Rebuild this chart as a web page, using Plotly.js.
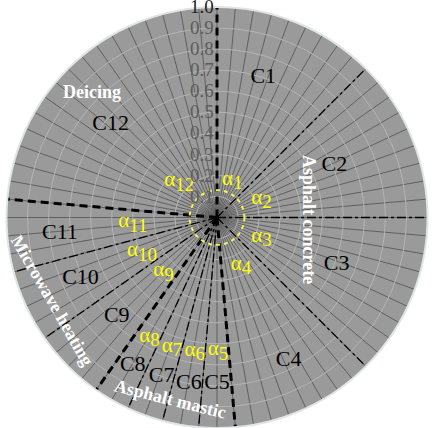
<!DOCTYPE html>
<html>
<head>
<meta charset="utf-8">
<script src="https://cdn.plot.ly/plotly-3.0.1.min.js"></script>
<style>
  html, body { margin: 0; padding: 0; background: #fff; }
  #chart { width: 436px; height: 428px; }
</style>
</head>
<body>
<div id="chart"></div>
<script>
// --- Data ---
const sectorLabels = ['C1', 'C2', 'C3', 'C4', 'C5', 'C6', 'C7', 'C8', 'C9', 'C10', 'C11', 'C12'];
const alphaIndex = ['1', '2', '3', '4', '5', '6', '7', '8', '9', '10', '11', '12'];
const groupBoundaries = [90, 275, 235, 175];               // thick dashed lines (deg)
const innerBoundaries = [45, 0, 315, 265, 255, 245, 215, 195]; // dash-dot lines (deg)
const groupNames = ['Asphalt concrete', 'Asphalt mastic', 'Microwave heating', 'Deicing'];
const radialTicks = [0.1, 0.2, 0.3, 0.4, 0.5, 0.6, 0.7, 0.8, 0.9, 1.0];
const radialTickText = ['0.1', '0.2', '0.3', '0.4', '0.5', '0.6', '0.7', '0.8', '0.9', '1.0'];
const alphaCircleR = 0.13;

// --- Label placement (polar) ---
const cTheta = [71.7, 24, -21.4, -63.4, 270, 260.4, 250.8, 240.4, 224.7, 204, 185.9, 139];
const cR = [0.70, 0.61, 0.61, 0.76, 0.79, 0.80, 0.80, 0.81, 0.67, 0.71, 0.75, 0.67];
const aTheta = [68, 23, -23, -63, 270.4, 260.5, 250.8, 240.4, 225, 204, 183, 136];
const aR = [0.195, 0.23, 0.23, 0.25, 0.63, 0.64, 0.65, 0.65, 0.36, 0.39, 0.40, 0.25];

// group label placement, pixel centre + rotation
const groupPos = [[309, 219, 90], [170, 399, 14], [52, 300, 60], [92, 92, 0]];

const margin = { l: 3, r: 5, t: 7, b: 0 };
const W = 436, H = 428;
const px = x => (x - margin.l) / (W - margin.l - margin.r);
const py = y => (H - margin.b - y) / (H - margin.t - margin.b);

const serif = 'Liberation Serif, Times New Roman, serif';

const traces = [];

// separator lines
groupBoundaries.forEach((t, i) => {
  traces.push({
    type: 'scatterpolar', mode: 'lines',
    r: [0, i === 0 ? 1.04 : 1], theta: [t, t],
    line: { color: '#000', width: 3, dash: '8px,5px' },
    hoverinfo: 'skip', cliponaxis: false
  });
});
innerBoundaries.forEach(t => {
  traces.push({
    type: 'scatterpolar', mode: 'lines',
    r: [0, 1], theta: [t, t],
    line: { color: '#000', width: 1.3, dash: 'dashdot' },
    hoverinfo: 'skip'
  });
});

// yellow dashed circle around the origin
const circleTheta = [];
for (let a = 0; a <= 360; a += 5) circleTheta.push(a);
traces.push({
  type: 'scatterpolar', mode: 'lines',
  r: circleTheta.map(() => alphaCircleR), theta: circleTheta,
  line: { color: '#f2f25a', width: 2, dash: '4px,4px' },
  hoverinfo: 'skip'
});

// sector labels
traces.push({
  type: 'scatterpolar', mode: 'text',
  r: cR, theta: cTheta, text: sectorLabels,
  textposition: 'middle center',
  textfont: { family: serif, size: 22, color: '#000' },
  hoverinfo: 'skip'
});

// alpha labels
traces.push({
  type: 'scatterpolar', mode: 'text',
  r: aR, theta: aTheta,
  text: alphaIndex.map(n => 'α<sub><span style="font-size:19px">' + n + '</span></sub>'),
  textposition: 'middle center',
  textfont: { family: serif, size: 21, color: '#ffff00' },
  hoverinfo: 'skip'
});

const annotations = groupNames.map((name, i) => ({
  text: '<b>' + name + '</b>',
  xref: 'paper', yref: 'paper',
  x: px(groupPos[i][0]), y: py(groupPos[i][1]),
  xanchor: 'center', yanchor: 'middle',
  textangle: groupPos[i][2],
  showarrow: false,
  font: { family: serif, size: 18, color: '#ffffff' }
}));

const layout = {
  width: W, height: H,
  margin: margin,
  paper_bgcolor: '#fff',
  showlegend: false,
  polar: {
    domain: { x: [0, 1], y: [0, 1] },
    bgcolor: '#9a9a9a',
    angularaxis: {
      rotation: 0, direction: 'counterclockwise',
      tickmode: 'linear', tick0: 0, dtick: 5,
      showticklabels: false, ticks: '',
      gridcolor: '#606060', gridwidth: 1,
      showline: true, linecolor: '#dfe5e5', linewidth: 2
    },
    radialaxis: {
      range: [0, 1], angle: 90, side: 'counterclockwise',
      tickangle: 90,
      tickmode: 'array', tickvals: radialTicks,
      ticktext: radialTickText.map((t, i) => i === radialTickText.length - 1 ? '<span style="color:#222">' + t + '</span>' : t),
      tickfont: { family: serif, size: 19, color: '#5c5c5c', shadow: 'none' },
      ticks: '', showline: false, layer: 'above traces',
      gridcolor: '#b4b4b4', gridwidth: 1
    }
  },
  annotations: annotations
};

Plotly.newPlot('chart', traces, layout, { displayModeBar: false, staticPlot: true });
</script>
</body>
</html>
